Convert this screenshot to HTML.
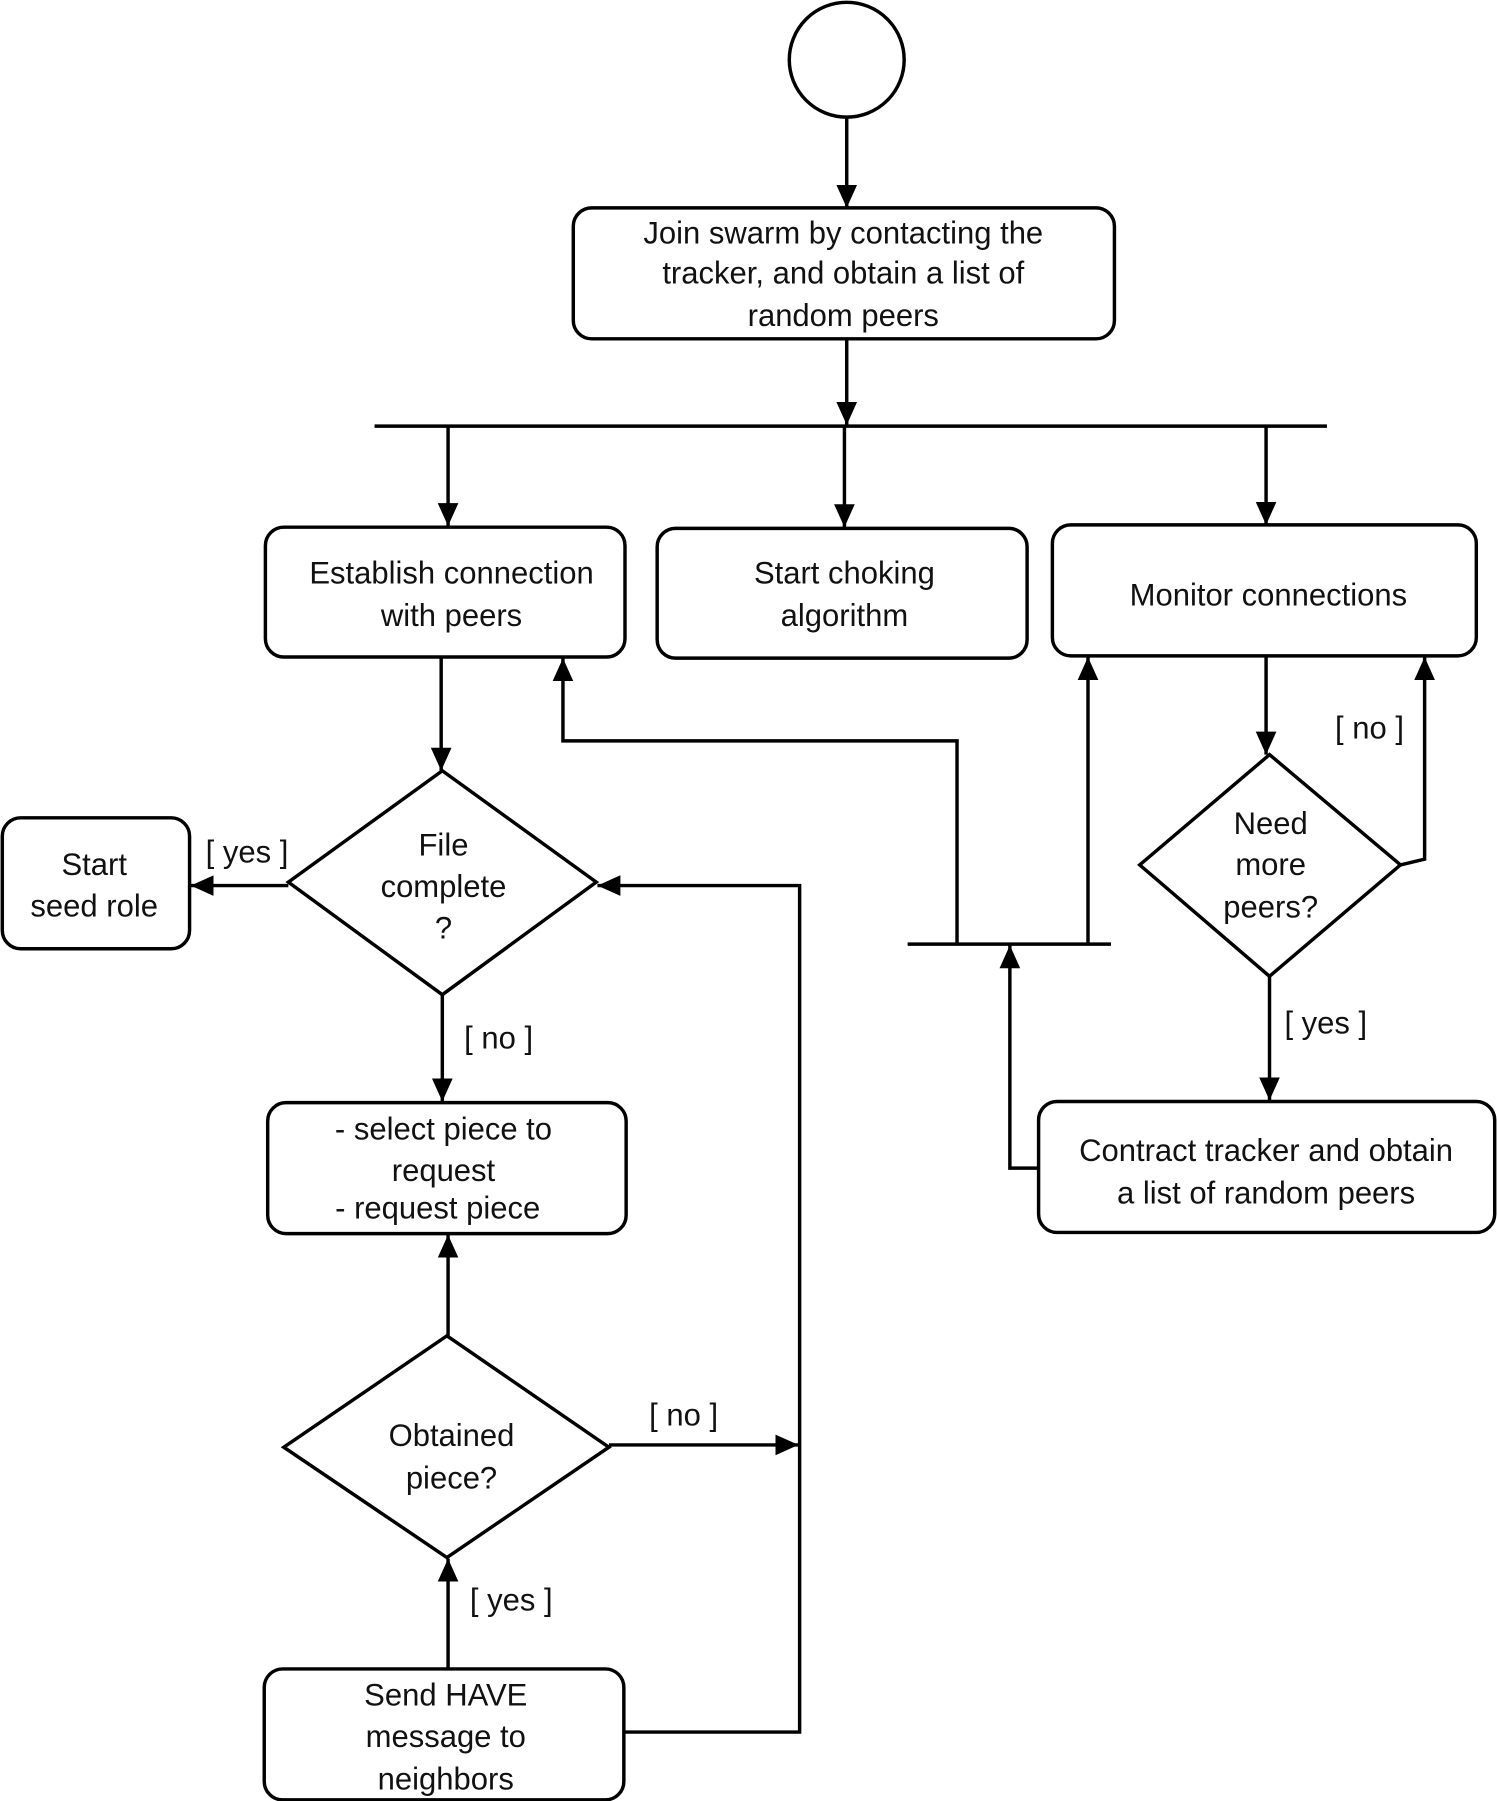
<!DOCTYPE html>
<html><head><meta charset="utf-8"><style>
html,body{margin:0;padding:0;background:#fff;}
svg{display:block;}
text{font-family:"Liberation Sans",Arial,sans-serif;font-size:27px;fill:#111;text-anchor:middle;}
</style></head><body>
<svg width="1497" height="1801" viewBox="0 0 1303 1568" preserveAspectRatio="none" xmlns="http://www.w3.org/2000/svg">
<defs><marker id="a" markerWidth="10" markerHeight="10" refX="9" refY="5" orient="auto" markerUnits="userSpaceOnUse"><path d="M0,0 L10,5 L0,10 z" fill="#000"/></marker>
<marker id="b" markerWidth="22" markerHeight="22" refX="20" refY="11" orient="auto" markerUnits="userSpaceOnUse"><path d="M0,2 L20,11 L0,20 z" fill="#000"/></marker></defs>
<g fill="none" stroke="#000" stroke-width="3">
<circle cx="737" cy="52" r="50"/>
<rect x="499" y="181" width="471" height="114" rx="16"/>
<rect x="231" y="459" width="313" height="113" rx="16"/>
<rect x="572" y="460" width="322" height="113" rx="16"/>
<rect x="916" y="457" width="369" height="114" rx="16"/>
<rect x="2" y="712" width="163" height="114" rx="16"/>
<rect x="233" y="960" width="312" height="114" rx="16"/>
<rect x="230" y="1453" width="313" height="114" rx="16"/>
<rect x="904" y="959" width="397" height="114" rx="16"/>
<polygon points="385,671 519,768 385,866 251,768"/>
<polygon points="389,1163 530,1260 389,1356 247,1260"/>
<polygon points="1105,657 1219,753 1105,850 992,753"/>
<line x1="326" y1="371" x2="1155" y2="371"/>
<line x1="790" y1="822" x2="967" y2="822"/>
<g marker-end="url(#b)">
<line x1="737" y1="102" x2="737" y2="181"/>
<line x1="737" y1="295" x2="737" y2="370"/>
<line x1="390" y1="371" x2="390" y2="458"/>
<line x1="735" y1="371" x2="735" y2="459"/>
<line x1="1102" y1="371" x2="1102" y2="457"/>
<line x1="384" y1="572" x2="384" y2="671"/>
<line x1="251" y1="771" x2="166" y2="771"/>
<line x1="385" y1="866" x2="385" y2="959"/>
<line x1="390" y1="1163" x2="390" y2="1075"/>
<line x1="530" y1="1258" x2="695" y2="1258"/>
<line x1="390" y1="1453" x2="390" y2="1357"/>
<polyline points="543,1508 696,1508 696,771 520,771"/>
<polyline points="833,822 833,645 490,645 490,573"/>
<line x1="947" y1="822" x2="947" y2="572"/>
<polyline points="904,1017 879,1017 879,823"/>
<line x1="1102" y1="571" x2="1102" y2="657"/>
<polyline points="1219,753 1240,748 1240,572"/>
<line x1="1105" y1="850" x2="1105" y2="958"/>
</g>
</g>
<text x="734" y="212">Join swarm by contacting the</text>
<text x="734" y="247">tracker, and obtain a list of</text>
<text x="734" y="284">random peers</text>
<text x="393" y="508">Establish connection</text>
<text x="393" y="545">with peers</text>
<text x="735" y="508">Start choking</text>
<text x="735" y="545">algorithm</text>
<text x="1104" y="527">Monitor connections</text>
<text x="82" y="762">Start</text>
<text x="82" y="798">seed role</text>
<text x="386" y="745">File</text>
<text x="386" y="781">complete</text>
<text x="386" y="817">?</text>
<text x="215" y="751">[ yes ]</text>
<text x="434" y="913">[ no ]</text>
<text x="386" y="992">- select piece to</text>
<text x="386" y="1028">request</text>
<text x="381" y="1061">- request piece</text>
<text x="393" y="1259">Obtained</text>
<text x="393" y="1296">piece?</text>
<text x="595" y="1241">[ no ]</text>
<text x="445" y="1402">[ yes ]</text>
<text x="388" y="1485">Send HAVE</text>
<text x="388" y="1521">message to</text>
<text x="388" y="1558">neighbors</text>
<text x="1106" y="726">Need</text>
<text x="1106" y="762">more</text>
<text x="1106" y="799">peers?</text>
<text x="1192" y="643">[ no ]</text>
<text x="1154" y="900">[ yes ]</text>
<text x="1102" y="1011">Contract tracker and obtain</text>
<text x="1102" y="1048">a list of random peers</text>
</svg>
</body></html>
